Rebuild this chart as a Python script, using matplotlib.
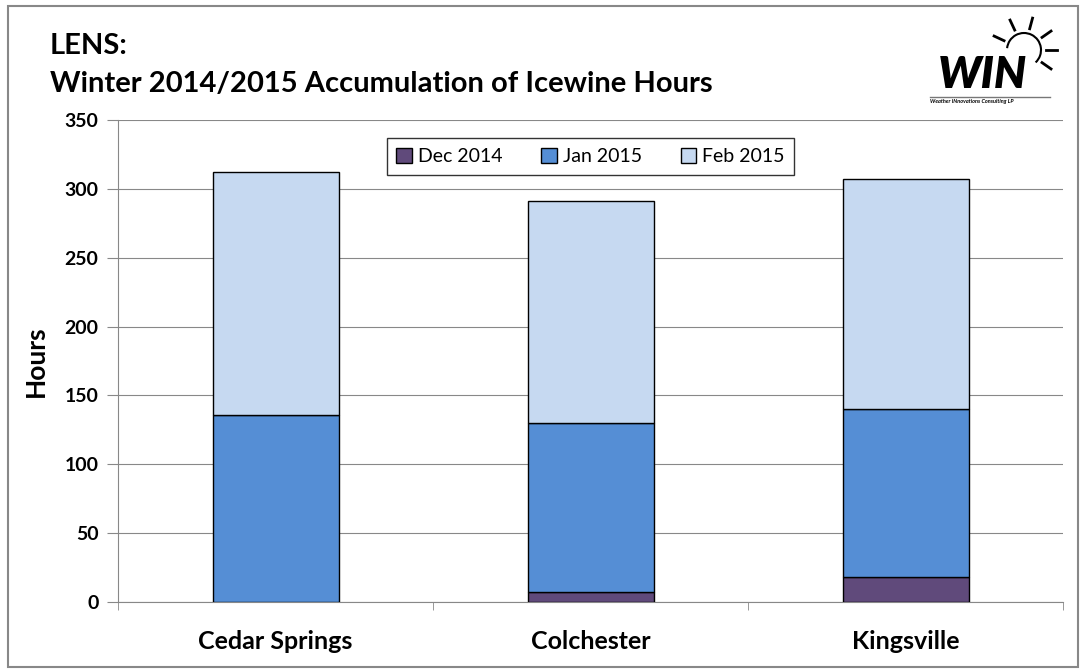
import matplotlib.pyplot as plt
import numpy as np
from matplotlib.patches import Rectangle, Arc

plt.rcParams['font.family'] = ['Lato', 'DejaVu Sans']

# Data
sites = ['Cedar Springs', 'Colchester', 'Kingsville']
dec_2014 = [0, 7, 18]
jan_2015 = [136, 123, 122]
feb_2015 = [176, 161, 167]
y_ticks = [0, 50, 100, 150, 200, 250, 300, 350]

colors = ['#604a7b', '#558ed5', '#c6d9f1']

fig = plt.figure(figsize=(10.86, 6.71), dpi=100)
ax = fig.add_axes([118 / 1086, 1 - 602 / 671, 945 / 1086, 482 / 671])

x = np.arange(len(sites))
bottom = np.zeros(len(sites))
for vals, col, lab in zip([dec_2014, jan_2015, feb_2015], colors, ['Dec 2014', 'Jan 2015', 'Feb 2015']):
    ax.bar(x, vals, 0.40, bottom=bottom, color=col, edgecolor='black', linewidth=1, label=lab, zorder=3)
    bottom += np.array(vals)

ax.set_xlim(-0.5, 2.5)
ax.set_ylim(0, 350)
ax.set_yticks(y_ticks)
ax.set_yticklabels([str(v) for v in y_ticks], fontsize=14, fontweight='bold')
ax.set_xticks(x)
ax.set_xticklabels(sites, fontsize=18, fontweight='bold')
ax.tick_params(axis='x', length=0, pad=20)
ax.tick_params(axis='y', length=8, color='#888888', pad=6)
ax.set_xticks([-0.5, 0.5, 1.5, 2.5], minor=True)
ax.tick_params(axis='x', which='minor', length=6, color='#888888')
ax.grid(axis='y', color='#888888', linewidth=0.8, zorder=0)

for s in ['top', 'right']:
    ax.spines[s].set_visible(False)
ax.spines['left'].set_color('#888888')
ax.spines['bottom'].set_color('#888888')

ax.set_ylabel('Hours', fontsize=19, fontweight='bold', labelpad=12)

leg = ax.legend(loc='upper center', bbox_to_anchor=(0.5, 0.982), ncol=3, fontsize=14,
                frameon=True, fancybox=False, edgecolor='black', handlelength=0.8,
                handleheight=0.8, columnspacing=2.0, handletextpad=0.3, borderpad=0.5)
leg.get_frame().set_linewidth(1.0)

# Title
fig.text(50 / 1086, 1 - 46 / 671, 'LENS:', fontsize=21, fontweight='bold', va='center', ha='left')
fig.text(50 / 1086, 1 - 84 / 671, 'Winter 2014/2015 Accumulation of Icewine Hours', fontsize=21,
         fontweight='bold', va='center', ha='left')

# Logo
fig.text(1027 / 1086, 1 - 75 / 671, 'WIN', fontsize=32, fontweight='heavy', style='italic',
         ha='right', va='center')
fig.add_artist(plt.Line2D([930 / 1086, 1050 / 1086], [1 - 97 / 671, 1 - 97 / 671], color='#777777', lw=1))
fig.text(930 / 1086, 1 - 102 / 671, 'Weather INnovations Consulting LP', fontsize=4, fontweight='bold',
         style='italic', ha='left', va='center')
cx, cy = 1024, 50
fig.add_artist(Arc((cx / 1086, 1 - cy / 671), 34 / 1086, 34 / 671, theta1=-60, theta2=170,
                   color='black', lw=1.5))
for ang in [-35, 0, 35, 75, 115, 155]:
    a = np.deg2rad(ang)
    r1, r2 = 22, 33
    fig.add_artist(plt.Line2D([(cx + r1 * np.cos(a)) / 1086, (cx + r2 * np.cos(a)) / 1086],
                              [1 - (cy - r1 * np.sin(a)) / 671, 1 - (cy - r2 * np.sin(a)) / 671],
                              color='black', lw=2))

# Outer border
fig.add_artist(Rectangle((8 / 1086, 4 / 671), 1070 / 1086, 661 / 671, fill=False,
                         edgecolor='#888888', lw=1.5, transform=fig.transFigure))

fig.savefig('out.png', dpi=100)
